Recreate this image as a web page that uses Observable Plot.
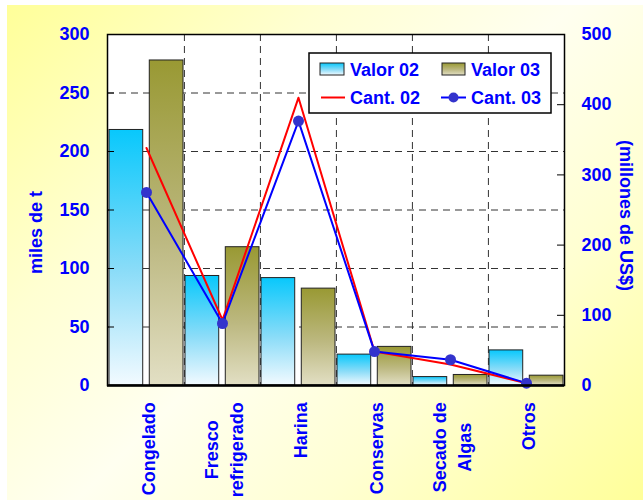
<!DOCTYPE html>
<html><head><meta charset="utf-8">
<script src="https://cdn.jsdelivr.net/npm/d3@7"></script>
<script src="https://cdn.jsdelivr.net/npm/@observablehq/plot@0.6"></script>
<style>
html,body{margin:0;padding:0;background:#fff;overflow:hidden;width:643px;height:500px}
#wrap{position:absolute;left:7px;top:5px;width:636px;height:495px;
background:linear-gradient(135deg,#ffff99 0%,#ffffd2 28%,#fffff0 50%,#ffffd2 72%,#ffff99 100%)}
</style></head><body><div id="wrap"></div>
<script>
// ---- data ----
const categories = ["Congelado","Fresco refrigerado","Harina","Conservas","Secado de Algas","Otros"];
const catLabels  = ["Congelado","Fresco\nrefrigerado","Harina","Conservas","Secado de\nAlgas","Otros"];
const valor02 = [364,156,153,44,12,50];   // millones de US$
const valor03 = [463,197,138,55,15,14];   // millones de US$
const cant02  = [203,56,246,29,18,2];     // miles de t
const cant03  = [165,53,226,29,22,2];     // miles de t
const leftTicks  = [0,50,100,150,200,250,300];
const rightTicks = [0,100,200,300,400,500];
const gridTicks  = [50,100,150,200,250];
const seriesNames = ["Valor 02","Valor 03","Cant. 02","Cant. 03"];

// ---- layout ----
const W = 636, H = 495, mL = 100, mR = 79, mT = 29, mB = 115;
const k = 300/500; // right-axis units -> left-axis units
const bw = (W - mL - mR) / categories.length;
const blue = "#0000ff";
const font = "'Liberation Sans', Arial, sans-serif";

const rows = categories.map((c,i)=>({cat:c, v02:valor02[i], v03:valor03[i], c02:cant02[i], c03:cant03[i]}));

const ctx = document.createElement("canvas").getContext("2d");
ctx.font = "bold 18px 'Liberation Sans'";

const labelMarks = categories.map((c,i)=>{
  const lines = catLabels[i].split("\n");
  const w = Math.max(...lines.map(l=>ctx.measureText(l).width));
  return Plot.text([c], {x:d=>d, text:()=>catLabels[i], frameAnchor:"bottom", rotate:-90,
    textAnchor:"middle", lineAnchor:"middle", lineHeight:1.4, dy:16.7 + w/2, fill:blue});
});

const chart = Plot.plot({
  width: W, height: H, marginLeft: mL, marginRight: mR, marginTop: mT, marginBottom: mB,
  style: {background:"transparent", fontFamily: font, fontSize:"18px", fontWeight:"bold", overflow:"visible"},
  x: {type:"band", domain: categories, padding: 0, axis: null},
  y: {domain:[0,300], axis: null},
  marks: [
    Plot.frame({fill:"white"}),
    Plot.ruleY(gridTicks, {stroke:"#333", strokeDasharray:"7,5", strokeWidth:1}),
    Plot.ruleX(categories.slice(1), {x:d=>d, dx:-bw/2, stroke:"#333", strokeDasharray:"7,5", strokeWidth:1}),
    Plot.barY(rows, {x:"cat", y:d=>d.v02*k, fill:"url(#g02)", stroke:"#222", strokeWidth:1,
      insetLeft:1, insetRight:bw/2+3.2}),
    Plot.barY(rows, {x:"cat", y:d=>d.v03*k, fill:"url(#g03)", stroke:"#222", strokeWidth:1,
      insetLeft:bw/2+3.2, insetRight:1}),
    Plot.line(rows, {x:"cat", y:"c02", stroke:"#ff0000", strokeWidth:2}),
    Plot.line(rows, {x:"cat", y:"c03", stroke:"#0000ff", strokeWidth:2}),
    Plot.dot(rows, {x:"cat", y:"c03", r:5.5, fill:"#3333cc"}),
    Plot.frame({stroke:"black", strokeWidth:1.5}),
    Plot.ruleY([0], {stroke:"black", strokeWidth:2.5}),
    // left axis
    Plot.axisY(leftTicks, {anchor:"left", tickSize:-7, tickFormat:()=>"", label:null}),
    Plot.axisY(leftTicks, {anchor:"left", tickSize:0, tickPadding:18, fill:blue, label:null}),
    // right axis (millones de US$)
    Plot.axisY(rightTicks.map(v=>v*k), {anchor:"right", tickSize:-8, tickFormat:()=>"", label:null}),
    Plot.axisY(rightTicks.map(v=>v*k), {anchor:"right", tickSize:0, tickPadding:17, fill:blue,
      tickFormat:d=>String(Math.round(d/k)), label:null}),
    Plot.text(["miles de t"], {text:d=>d, frameAnchor:"left", dx:-71, dy:22.5, rotate:-90,
      textAnchor:"middle", lineAnchor:"middle", fill:blue}),
    Plot.text(["(millones de US$)"], {text:d=>d, frameAnchor:"right", dx:60.8, dy:5.5, rotate:90,
      textAnchor:"middle", lineAnchor:"middle", fill:blue}),
    ...labelMarks
  ]
});

const svg = d3.select(chart);
const defs = svg.insert("defs", ":first-child");
const g2 = defs.append("linearGradient").attr("id","g02").attr("x1",0).attr("y1",0).attr("x2",0).attr("y2",1);
g2.append("stop").attr("offset","0%").attr("stop-color","#08c8fc");
g2.append("stop").attr("offset","55%").attr("stop-color","#8adcf8");
g2.append("stop").attr("offset","100%").attr("stop-color","#f2faff");
const g3 = defs.append("linearGradient").attr("id","g03").attr("x1",0).attr("y1",0).attr("x2",0).attr("y2",1);
g3.append("stop").attr("offset","0%").attr("stop-color","#999933");
g3.append("stop").attr("offset","55%").attr("stop-color","#bcb880");
g3.append("stop").attr("offset","100%").attr("stop-color","#e2dfc4");

// legend inside plot area
const lg = svg.append("g").attr("font-family", font).attr("font-size", 18).attr("font-weight","bold")
  .attr("text-anchor","start");
lg.append("rect").attr("x",302).attr("y",48).attr("width",242).attr("height",60)
  .attr("fill","white").attr("stroke","black").attr("stroke-width",1.5);
lg.append("rect").attr("x",313).attr("y",58).attr("width",24).attr("height",12).attr("fill","url(#g02)").attr("stroke","#222");
lg.append("rect").attr("x",435).attr("y",58).attr("width",23).attr("height",12).attr("fill","url(#g03)").attr("stroke","#222");
lg.append("line").attr("x1",314).attr("x2",338).attr("y1",92.5).attr("y2",92.5).attr("stroke","#ff0000").attr("stroke-width",2);
lg.append("line").attr("x1",434).attr("x2",459).attr("y1",92.5).attr("y2",92.5).attr("stroke","#0000ff").attr("stroke-width",2);
lg.append("circle").attr("cx",446.5).attr("cy",92.5).attr("r",5).attr("fill","#3333cc");
const pos = [[343,71],[464,71],[343,99],[464,99]];
seriesNames.forEach((s,i)=>lg.append("text").attr("x",pos[i][0]).attr("y",pos[i][1])
  .attr("fill",blue).attr("text-anchor","start").text(s));

document.getElementById("wrap").appendChild(chart);
</script>
</body></html>
